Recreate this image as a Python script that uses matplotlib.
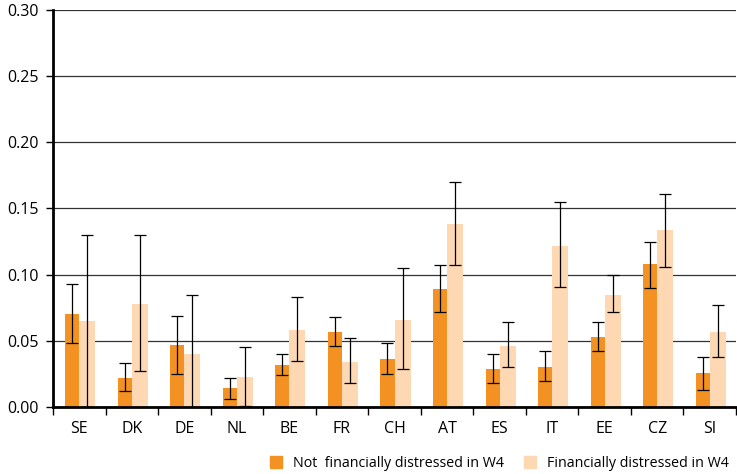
import matplotlib
matplotlib.use("Agg")
import matplotlib.pyplot as plt
import numpy as np
from matplotlib.patches import Patch

countries = ["SE", "DK", "DE", "NL", "BE", "FR", "CH", "AT", "ES", "IT", "EE", "CZ", "SI"]

# not financially distressed in W4
not_dist = [0.070, 0.022, 0.047, 0.014, 0.032, 0.057, 0.036, 0.089, 0.029, 0.030, 0.053, 0.108, 0.026]
not_dist_lo = [0.048, 0.012, 0.025, 0.006, 0.024, 0.046, 0.025, 0.072, 0.018, 0.020, 0.042, 0.090, 0.013]
not_dist_hi = [0.093, 0.033, 0.069, 0.022, 0.040, 0.068, 0.048, 0.107, 0.040, 0.042, 0.064, 0.125, 0.038]

# financially distressed in W4
dist = [0.065, 0.078, 0.040, 0.023, 0.058, 0.034, 0.066, 0.138, 0.046, 0.122, 0.085, 0.134, 0.057]
dist_lo = [0.000, 0.027, -0.003, 0.001, 0.035, 0.018, 0.029, 0.107, 0.030, 0.091, 0.072, 0.106, 0.038]
dist_hi = [0.130, 0.130, 0.085, 0.045, 0.083, 0.052, 0.105, 0.170, 0.064, 0.155, 0.100, 0.161, 0.077]

ORANGE = "#F39122"
PEACH = "#FDD8B2"

plt.rcParams["font.family"] = ["Open Sans", "DejaVu Sans"]

fig = plt.figure(figsize=(7.37, 4.74), dpi=100)
ax = fig.add_axes([53 / 737, 67 / 474, 683 / 737, 397 / 474])

x = np.arange(len(countries))
w1, w2 = 0.267, 0.305

ax.bar(x - w1 / 2, not_dist, width=w1, color=ORANGE, zorder=2)
ax.bar(x + w2 / 2, dist, width=w2, color=PEACH, zorder=2)

nd = np.array(not_dist)
d = np.array(dist)
ax.errorbar(x - w1 / 2, nd, yerr=[nd - np.array(not_dist_lo), np.array(not_dist_hi) - nd],
            fmt="none", ecolor="black", elinewidth=0.9, capsize=4, capthick=0.9, zorder=3)
ax.errorbar(x + w2 / 2, d, yerr=[d - np.array(dist_lo), np.array(dist_hi) - d],
            fmt="none", ecolor="black", elinewidth=0.9, capsize=4, capthick=0.9, zorder=3)

ax.set_xlim(-0.5, len(countries) - 0.5)
ax.set_ylim(0, 0.30)
ax.set_yticks(np.arange(0, 0.301, 0.05))
ax.set_yticklabels([f"{v:.2f}" for v in np.arange(0, 0.301, 0.05)], fontsize=11.5)
ax.yaxis.grid(True, color="#333333", linewidth=0.9, zorder=0)
ax.set_axisbelow(True)

ax.set_xticks(x)
ax.set_xticklabels(countries, fontsize=11.5)
ax.tick_params(axis="x", length=0, pad=10)
ax.set_xticks(np.arange(-0.5, len(countries), 1), minor=True)
ax.tick_params(axis="x", which="minor", length=6, width=1, direction="out")
ax.tick_params(axis="y", length=5, width=1, direction="out", pad=5)

for side in ["top", "right"]:
    ax.spines[side].set_visible(False)
ax.spines["left"].set_linewidth(2)
ax.spines["bottom"].set_linewidth(2)

handles = [Patch(color=ORANGE, label="Not  financially distressed in W4"),
           Patch(color=PEACH, label="Financially distressed in W4")]
fig.legend(handles=handles, loc="lower right", bbox_to_anchor=(1.0, -0.012), ncol=2, frameon=False,
           fontsize=10.3, handlelength=0.85, handleheight=0.85, handletextpad=0.75, columnspacing=1.4,
           borderaxespad=0.2)

fig.savefig("out.png", dpi=100)
